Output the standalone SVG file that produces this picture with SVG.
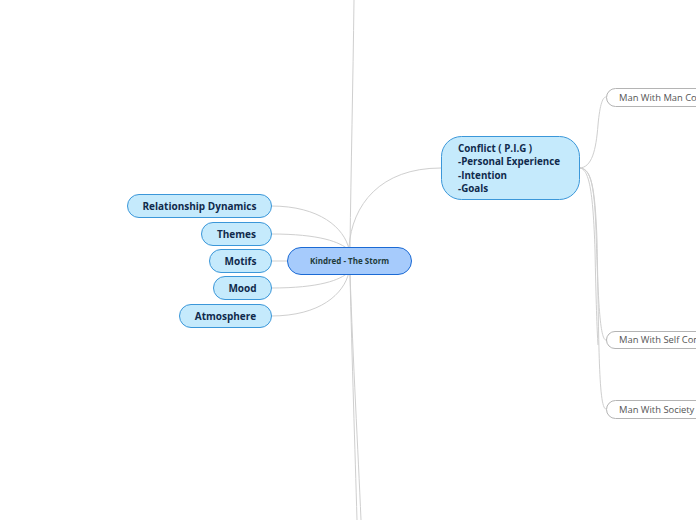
<svg xmlns="http://www.w3.org/2000/svg" width="696" height="520" viewBox="0 0 696 520">
<style>
.c{fill:none;stroke:#cfcfcf;stroke-width:1}
.l{fill:#c5eafc;stroke:#3b97d9;stroke-width:1}
.lt{font-family:"Open Sans","Noto Sans",sans-serif;font-weight:bold;font-size:10px;fill:#102a4c;text-anchor:middle}
.r{fill:#ffffff;stroke:#b4b4b4;stroke-width:1}
.rt{font-family:"Open Sans","Noto Sans",sans-serif;font-size:9.4px;fill:#555555}
</style>
<rect width="696" height="520" fill="#ffffff"/>
<g id="connectors">
<path class="c" d="M350,247 C351,170 353,80 354,0"/>
<path class="c" d="M350,274 C352,360 355,450 357,520"/>
<path class="c" d="M350,274 C353,360 358,450 361,520"/>
<path class="c" d="M349,247 C352,205 380,168 441,168"/>
<path class="c" d="M271,206 C320,206 344,228 349,249"/>
<path class="c" d="M271,234 C320,234 340,242 349,250"/>
<path class="c" d="M271,261 L287,261"/>
<path class="c" d="M271,288 C320,288 340,280 349,272"/>
<path class="c" d="M271,316 C320,316 344,294 349,272"/>
<path class="c" d="M579,168 C592,168 596,150 598,125 C600,103 603,97 606,97"/>
<path class="c" d="M579,168 C590,168 594,180 596,230 C598,300 600,340 606,340"/>
<path class="c" d="M579,168 C591,168 595,185 597,240 C599,330 598,409 606,409"/>
<path class="c" d="M579,168 C589,168 593,190 595,250 C596,300 597,330 598,345"/>
</g>
<g id="root">
<rect x="287.5" y="247.5" width="124" height="27" rx="13.5" fill="#a6cbfc" stroke="#1b6ad4" stroke-width="1"/>
<text x="349.5" y="264" font-family="'Open Sans','Noto Sans',sans-serif" font-weight="bold" font-size="8px" fill="#1f3b3a" text-anchor="middle">Kindred - The Storm</text>
</g>
<g id="relationship">
<rect class="l" x="127.5" y="194.5" width="144" height="23" rx="11.5"/>
<text class="lt" x="199.5" y="209.5">Relationship Dynamics</text>
</g>
<g id="themes">
<rect class="l" x="201.5" y="222.5" width="70" height="23" rx="11.5"/>
<text class="lt" x="236.5" y="237.5">Themes</text>
</g>
<g id="motifs">
<rect class="l" x="209.5" y="249.5" width="62" height="23" rx="11.5"/>
<text class="lt" x="240.5" y="264.5">Motifs</text>
</g>
<g id="mood">
<rect class="l" x="213.5" y="276.5" width="58" height="23" rx="11.5"/>
<text class="lt" x="242.5" y="291.5">Mood</text>
</g>
<g id="atmosphere">
<rect class="l" x="179.5" y="304.5" width="92" height="23" rx="11.5"/>
<text class="lt" x="225.5" y="319.5">Atmosphere</text>
</g>
<g id="conflict">
<rect class="l" x="441.5" y="136.5" width="138" height="63" rx="20"/>
<text font-family="'Open Sans','Noto Sans',sans-serif" font-weight="bold" font-size="9.8px" fill="#102a4c">
<tspan x="458" y="151.5">Conflict ( P.I.G )</tspan>
<tspan x="458" y="165">-Personal Experience</tspan>
<tspan x="458" y="178.5">-Intention</tspan>
<tspan x="458" y="192">-Goals</tspan>
</text>
</g>
<g id="man-man">
<rect class="r" x="606.5" y="88.5" width="120" height="18" rx="9"/>
<text class="rt" x="619" y="100.5">Man With Man Conflict</text>
</g>
<g id="man-self">
<rect class="r" x="606.5" y="331.5" width="120" height="17" rx="8.5"/>
<text class="rt" x="619" y="343">Man With Self Conflict</text>
</g>
<g id="man-society">
<rect class="r" x="606.5" y="400.5" width="120" height="18" rx="9"/>
<text class="rt" x="619" y="412.5">Man With Society Conflict</text>
</g>
</svg>
